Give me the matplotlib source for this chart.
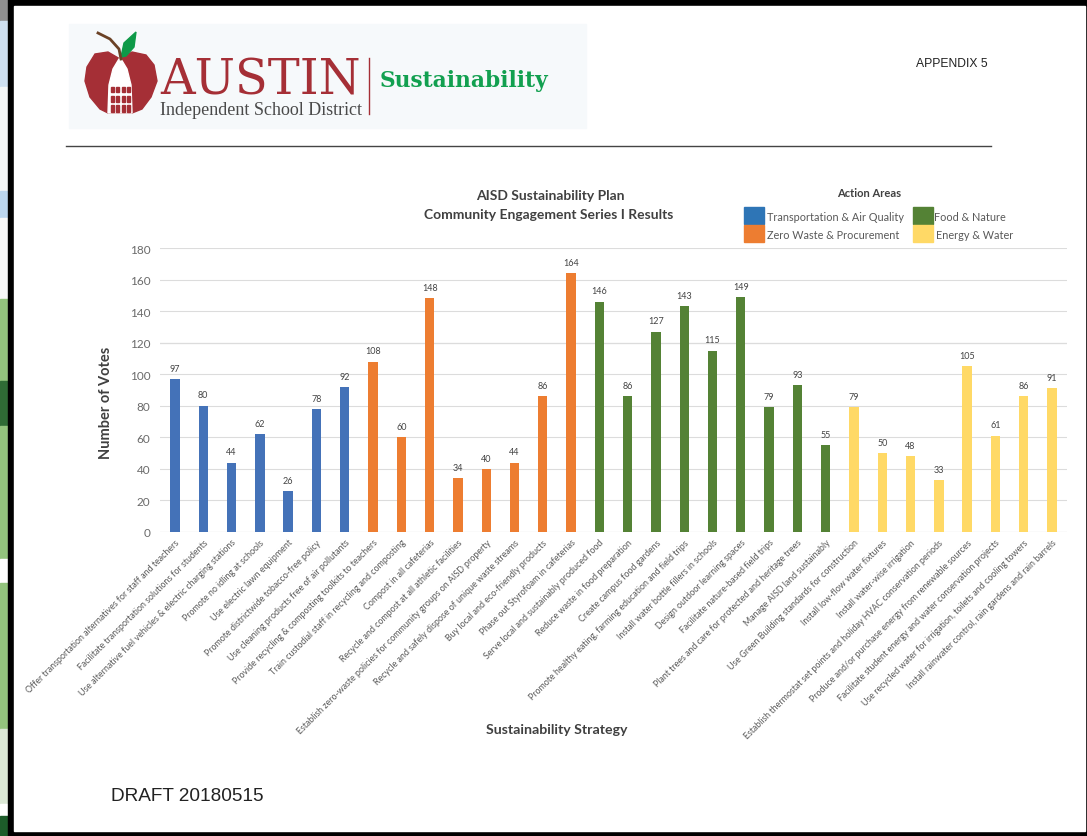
import matplotlib
matplotlib.use('Agg')
import matplotlib.pyplot as plt
from matplotlib.patches import Rectangle, Polygon

W, H = 1087, 837

# 戦略ごとのデータ
strategies = [
    'Offer transportation alternatives for staff and teachers',
    'Facilitate transportation solutions for students',
    'Use alternative fuel vehicles & electric charging stations',
    'Promote no idling at schools',
    'Use electric lawn equipment',
    'Promote districtwide tobacco-free policy',
    'Use cleaning products free of air pollutants',
    'Provide recycling & composting toolkits to teachers',
    'Train custodial staff in recycling and composting',
    'Compost in all cafeterias',
    'Recycle and compost at all athletic facilities',
    'Establish zero-waste policies for community groups on AISD property',
    'Recycle and safely dispose of unique waste streams',
    'Buy local and eco-friendly products',
    'Phase out Styrofoam in cafeterias',
    'Serve local and sustainably produced food',
    'Reduce waste in food preparation',
    'Create campus food gardens',
    'Promote healthy eating, farming education and field trips',
    'Install water bottle fillers in schools',
    'Design outdoor learning spaces',
    'Facilitate nature-based field trips',
    'Plant trees and care for protected and heritage trees',
    'Manage AISD land sustainably',
    'Use Green Building standards for construction',
    'Install low-flow water fixtures',
    'Install water-wise irrigation',
    'Establish thermostat set points and holiday HVAC conservation periods',
    'Produce and/or purchase energy from renewable sources',
    'Facilitate student energy and water conservation projects',
    'Use recycled water for irrigation, toilets and cooling towers',
    'Install rainwater control, rain gardens and rain barrels',
]
votes = [97, 80, 44, 62, 26, 78, 92,
         108, 60, 148, 34, 40, 44, 86, 164,
         146, 86, 127, 143, 115, 149, 79, 93, 55,
         79, 50, 48, 33, 105, 61, 86, 91]
area_counts = [7, 8, 9, 8]
area_colors = ['#4472b8', '#ed7d31', '#548235', '#ffd966']
legend_colors = ['#2e75b6', '#ed7d31', '#548235', '#ffd966']
area_names = ['Transportation & Air Quality', 'Zero Waste & Procurement',
              'Food & Nature', 'Energy & Water']
y_ticks = list(range(0, 181, 20))

plt.rcParams['font.family'] = ['Lato', 'DejaVu Sans']

fig = plt.figure(figsize=(W / 100, H / 100), dpi=100, facecolor='black')

# ページと外枠はピクセル座標の下敷きに描く
bg = fig.add_axes([0, 0, 1, 1], zorder=0)
bg.set_xlim(0, W)
bg.set_ylim(H, 0)
bg.axis('off')

# 左端に見える後ろのスプレッドシート
strip = [(0, 22, '#8f8f8f'), (22, 66, '#cfe0f0'), (88, 104, '#f4f6f6'), (192, 27, '#bcd6ee'),
         (219, 81, '#f8f8f8'), (300, 82, '#93c47d'), (382, 45, '#2f6b35'), (427, 133, '#93c47d'),
         (560, 24, '#ffffff'), (584, 146, '#93c47d'), (730, 75, '#dbe8d5'), (805, 12, '#ffffff'),
         (817, 20, '#1d5c2a')]
for y0, h0, c in strip:
    bg.add_patch(Rectangle((0, y0), 8, h0, color=c))
bg.add_patch(Rectangle((14, 7), 1071, 825, color='white', zorder=2))
bg.add_patch(Rectangle((8, 0), 6, H, color='black', zorder=1))

# ロゴ
bg.add_patch(Rectangle((69, 25), 517, 104, color='#f6f9fb', zorder=3))
red = '#a52f36'
bg.add_patch(Polygon([(120, 60), (108, 53), (95, 55), (87, 68), (85, 82), (90, 98), (100, 110),
                      (108, 114), (132, 114), (142, 110), (151, 98), (157, 82), (154, 66),
                      (146, 56), (132, 53)], color=red, zorder=4))
bg.add_patch(Polygon([(108, 114), (132, 114), (131, 86), (127, 70), (121, 60), (119, 60),
                      (113, 70), (109, 86)], color='white', zorder=5))
bg.add_patch(Polygon([(121, 58), (124, 44), (136, 33), (134, 48), (126, 57)], color='#0e9a48', zorder=5))
bg.plot([98, 110, 119, 121], [34, 40, 50, 60], color='#6b4226', lw=2, zorder=5)
for row_y, row_h in [(88, 5), (97, 6), (106, 7)]:
    for col_x in [112, 117.5, 123, 128]:
        bg.add_patch(Rectangle((col_x - 1.5, row_y), 3, row_h, color=red, zorder=6))
bg.text(160, 94, 'AUSTIN', family='DejaVu Serif', fontsize=34.5, color=red, ha='left',
        va='baseline', zorder=6)
bg.text(160, 115, 'Independent School District', family='Liberation Serif', fontsize=13,
        color='#4a4a4a', ha='left', va='baseline', zorder=6)
bg.plot([369, 369], [59, 115], color=red, lw=1, zorder=6)
bg.text(380, 87, 'Sustainability', family='DejaVu Serif', weight='bold', fontsize=15.7,
        color='#12a050', ha='left', va='baseline', zorder=6)

bg.text(916, 63.5, 'APPENDIX 5', fontsize=8.7, color='#222222', ha='left', va='center',
        family='Liberation Sans', zorder=6)
bg.plot([66, 991], [147, 147], color='#444444', lw=1, zorder=6)
bg.text(111, 797, 'DRAFT 20180515', fontsize=13.7, color='#222222', ha='left', va='center',
        family='Liberation Sans', zorder=6)

# 棒グラフ
left, right, top, bottom = 160, 1067, 249, 533
ax = fig.add_axes([left / W, 1 - bottom / H, (right - left) / W, (bottom - top) / H], zorder=3)
ax.patch.set_alpha(0)

colors = []
for n, c in zip(area_counts, area_colors):
    colors += [c] * n
xs = list(range(len(votes)))
ax.bar(xs, votes, width=0.33, color=colors, zorder=3)
for x, v in zip(xs, votes):
    ax.text(x, v + 4, str(v), fontsize=6.5, color='#444444', ha='center', va='bottom')

step = (1052 - 175) / 31
ax.set_xlim(-(175 - left) / step, 31 + (right - 1052) / step)
ax.set_ylim(0, 180)
ax.set_yticks(y_ticks)
ax.tick_params(axis='y', length=0, labelsize=8.5, labelcolor='#6a6a6a', pad=7)
ax.set_xticks(xs)
ax.set_xticklabels(strategies, rotation=45, ha='right', va='top', rotation_mode='anchor',
                   fontsize=6.4, color='#595959')
ax.tick_params(axis='x', length=0, pad=4)
ax.grid(axis='y', color='#dcdcdc', lw=0.8, zorder=0)
for s in ax.spines.values():
    s.set_visible(False)
ax.axhline(120, color='#bdbdbd', lw=0.8, zorder=1)
ax.axhline(0, color='#d0d0d0', lw=0.8, zorder=1)

# 軸ラベルとタイトル
bg.text(106, 403, 'Number of Votes', rotation=90, fontsize=10.5, weight='bold', color='#404040',
        ha='center', va='center', zorder=6)
bg.text(557, 730, 'Sustainability Strategy', fontsize=10.2, weight='bold', color='#404040',
        ha='center', va='center', zorder=6)
bg.text(550, 196, 'AISD Sustainability Plan', fontsize=10, weight='bold', color='#404040',
        ha='center', va='center', zorder=6)
bg.text(549, 215, 'Community Engagement Series I Results', fontsize=10, weight='bold',
        color='#404040', ha='center', va='center', zorder=6)

# 凡例
bg.text(869, 193, 'Action Areas', fontsize=8, weight='bold', color='#404040',
        ha='center', va='center', zorder=6)
legend_pos = [(744, 208, 767), (744, 226, 767), (913, 208, 934), (913, 226, 936)]
for (bx, by, tx), c, name in zip(legend_pos, legend_colors, area_names):
    bg.add_patch(Rectangle((bx, by), 20, 17, color=c, zorder=6))
    bg.text(tx, by + 9, name, fontsize=7.8, color='#595959', ha='left', va='center', zorder=6)

fig.savefig('out.png', dpi=100, facecolor='black')
